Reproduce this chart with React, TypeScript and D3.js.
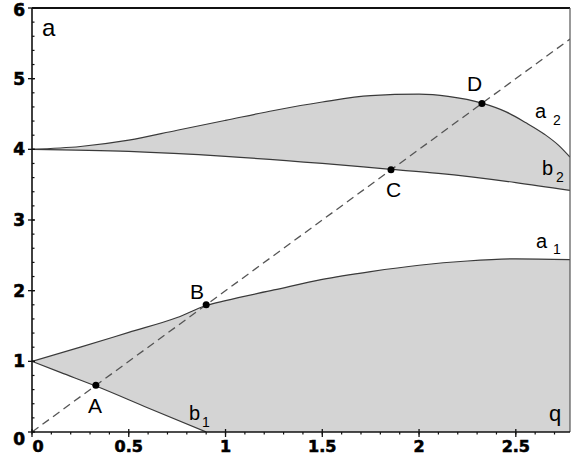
import React from "react";
import * as d3 from "d3";

// ---- data ----
const qA1 = [0, 0.25, 0.5, 0.75, 0.9, 1.0, 1.25, 1.5, 1.75, 2.0, 2.25, 2.5, 2.78];
const a1 = [1, 1.2, 1.41, 1.62, 1.79, 1.86, 2.01, 2.16, 2.27, 2.36, 2.42, 2.45, 2.44];

const qB1 = [0, 0.15, 0.33, 0.6, 0.9];
const b1 = [1, 0.84, 0.65, 0.34, 0];

const qA2 = [0, 0.25, 0.5, 0.75, 1.0, 1.25, 1.5, 1.75, 2.0, 2.15, 2.33, 2.45, 2.55, 2.65, 2.72, 2.78];
const a2 = [4, 4.04, 4.13, 4.27, 4.41, 4.55, 4.67, 4.76, 4.78, 4.75, 4.65, 4.53, 4.38, 4.21, 4.06, 3.89];

const qB2 = [0, 0.5, 1.0, 1.5, 1.84, 2.1, 2.5, 2.78];
const b2 = [4, 3.97, 3.9, 3.8, 3.72, 3.66, 3.53, 3.42];

const diagQ = [0, 2.78];
const diagSlope = 2;

const pointNames = ["A", "B", "C", "D"];
const pointQ = [0.33, 0.9, 1.855, 2.325];
const pointV = [0.66, 1.8, 3.71, 4.65];

const xTicks = [0, 0.5, 1, 1.5, 2, 2.5];
const xTickLabels = ["0", "0.5", "1", "1.5", "2", "2.5"];
const yTicks = [0, 1, 2, 3, 4, 5, 6];
const yTickLabels = ["0", "1", "2", "3", "4", "5", "6"];

const W = 572;
const H = 463;
const X0 = 32, X1 = 570, Y0 = 432, Y1 = 8;

export default function App() {
  const x = d3.scaleLinear().domain([0, 2.78]).range([X0, X1]);
  const y = d3.scaleLinear().domain([0, 6]).range([Y0, Y1]);

  type P = [number, number];
  const zip = (qs: number[], vs: number[]): P[] => qs.map((q, i) => [q, vs[i]]);
  const pA1 = zip(qA1, a1);
  const pB1 = zip(qB1, b1);
  const pA2 = zip(qA2, a2);
  const pB2 = zip(qB2, b2);

  const line = d3
    .line<P>()
    .x((d) => x(d[0]))
    .y((d) => y(d[1]))
    .curve(d3.curveMonotoneX);

  const region1 =
    (line(pA1) as string) +
    `L${x(2.78)},${y(0)}L${x(qB1[qB1.length - 1])},${y(0)}` +
    (line(pB1.slice().reverse()) as string).replace(/^M/, "L") +
    "Z";
  const region2 =
    (line(pA2) as string) +
    (line(pB2.slice().reverse()) as string).replace(/^M/, "L") +
    "Z";

  const xMinor = d3.range(0, 2.7801, 0.1);
  const yMinor = d3.range(0, 6.001, 0.2);

  const tickFont = "'DejaVu Sans', sans-serif";
  const labFont = "'Liberation Sans', Arial, sans-serif";
  const curveStroke = "#3a3a3a";

  const yLabelY = (t: number, i: number) => {
    if (i === 0) return y(t) + 7;
    if (i === yTicks.length - 1) return y(t) + 2;
    return y(t);
  };

  return (
    <svg
      width={W}
      height={H}
      style={{ position: "absolute", left: 0, top: 0, background: "#fff" }}
    >
      <defs>
        <clipPath id="plot">
          <rect x={X0} y={Y1} width={X1 - X0} height={Y0 - Y1} />
        </clipPath>
      </defs>
      <g clipPath="url(#plot)">
        <path d={region1} fill="#d4d4d4" stroke="none" />
        <path d={region2} fill="#d4d4d4" stroke="none" />
        <path d={line(pA1) as string} fill="none" stroke={curveStroke} strokeWidth={1.2} />
        <path d={line(pB1) as string} fill="none" stroke={curveStroke} strokeWidth={1.2} />
        <path d={line(pA2) as string} fill="none" stroke={curveStroke} strokeWidth={1.2} />
        <path d={line(pB2) as string} fill="none" stroke={curveStroke} strokeWidth={1.2} />
        <line
          x1={x(diagQ[0])}
          y1={y(diagQ[0] * diagSlope)}
          x2={x(diagQ[1])}
          y2={y(diagQ[1] * diagSlope)}
          stroke="#555"
          strokeWidth={1.3}
          strokeDasharray="8,5"
        />
      </g>

      {/* frame */}
      <line x1={X0} y1={Y1} x2={X1} y2={Y1} stroke="#111" strokeWidth={2} />
      <line x1={X1} y1={Y1} x2={X1} y2={Y0} stroke="#555" strokeWidth={1.2} />
      <line x1={X0} y1={Y1} x2={X0} y2={Y0} stroke="#111" strokeWidth={1.6} />
      <line x1={X0} y1={Y0} x2={X1} y2={Y0} stroke="#111" strokeWidth={1.6} />

      {/* ticks */}
      {xMinor.map((t, i) => (
        <line key={"xm" + i} x1={x(t)} x2={x(t)} y1={Y0} y2={Y0 + 2.5} stroke="#111" strokeWidth={1.2} />
      ))}
      {xTicks.map((t, i) => (
        <line key={"xM" + i} x1={x(t)} x2={x(t)} y1={Y0 - 3} y2={Y0 + 5} stroke="#111" strokeWidth={1.3} />
      ))}
      {yMinor.map((t, i) => (
        <line key={"ym" + i} x1={X0} x2={X0 + 2.5} y1={y(t)} y2={y(t)} stroke="#111" strokeWidth={1.2} />
      ))}
      {yTicks.map((t, i) => (
        <line key={"yM" + i} x1={X0 - 4} x2={X0 + 3} y1={y(t)} y2={y(t)} stroke="#111" strokeWidth={1.3} />
      ))}

      {/* tick labels */}
      {xTicks.map((t, i) => (
        <text
          key={"xl" + i}
          x={i === 0 ? x(t) + 6 : x(t)}
          y={452}
          textAnchor="middle"
          fontFamily={tickFont}
          fontWeight="bold"
          fontSize={16}
          fill="#000"
          stroke="#000"
          strokeWidth={0.6}
        >
          {xTickLabels[i]}
        </text>
      ))}
      {yTicks.map((t, i) => (
        <text
          key={"yl" + i}
          x={25}
          y={yLabelY(t, i)}
          dy="0.36em"
          textAnchor="end"
          fontFamily={tickFont}
          fontWeight="bold"
          fontSize={17}
          fill="#000"
          stroke="#000"
          strokeWidth={0.6}
        >
          {yTickLabels[i]}
        </text>
      ))}

      {/* points */}
      {pointQ.map((q, i) => (
        <circle key={"p" + i} cx={x(q)} cy={y(pointV[i])} r={3.5} fill="#000" />
      ))}
      <text x={88} y={413} fontFamily={labFont} fontSize={21} fill="#000">{pointNames[0]}</text>
      <text x={190} y={299} fontFamily={labFont} fontSize={21} fill="#000">{pointNames[1]}</text>
      <text x={386} y={197} fontFamily={labFont} fontSize={21} fill="#000">{pointNames[2]}</text>
      <text x={467} y={91} fontFamily={labFont} fontSize={21} fill="#000">{pointNames[3]}</text>

      {/* curve labels */}
      <text x={42} y={36} fontFamily={labFont} fontSize={24} fill="#000">a</text>
      <text x={549} y={421} fontFamily={labFont} fontSize={22} fill="#000">q</text>
      <text x={535} y={118} fontFamily={labFont} fontSize={20} fill="#000">a</text>
      <text x={553} y={125} fontFamily={labFont} fontSize={14} fill="#000">2</text>
      <text x={542} y={175} fontFamily={labFont} fontSize={20} fill="#000">b</text>
      <text x={556} y={182} fontFamily={labFont} fontSize={14} fill="#000">2</text>
      <text x={536} y={248} fontFamily={labFont} fontSize={20} fill="#000">a</text>
      <text x={553} y={254} fontFamily={labFont} fontSize={14} fill="#000">1</text>
      <text x={189} y={420} fontFamily={labFont} fontSize={20} fill="#000">b</text>
      <text x={202} y={427} fontFamily={labFont} fontSize={14} fill="#000">1</text>
    </svg>
  );
}
